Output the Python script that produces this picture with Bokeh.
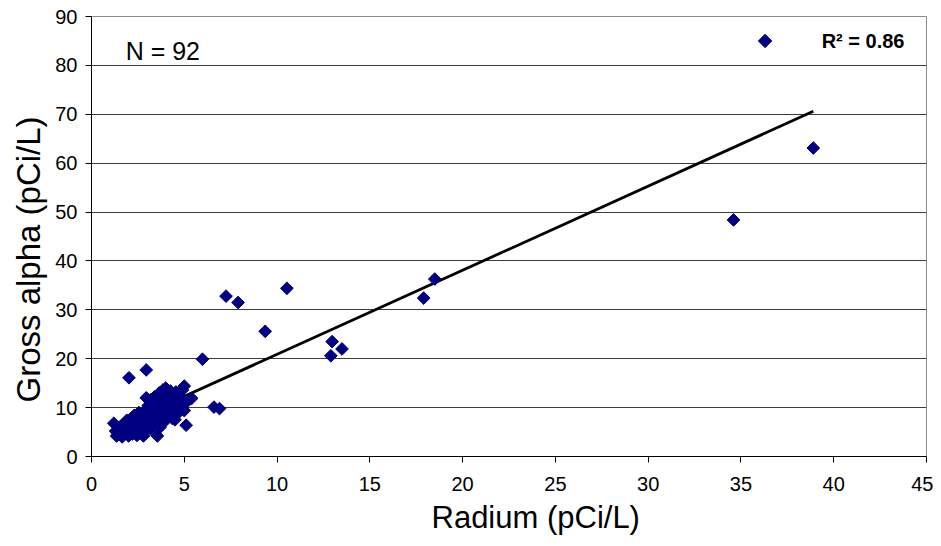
import math
from bokeh.plotting import figure
from bokeh.models import Label, Title, ColumnDataSource, FixedTicker
from bokeh.embed import file_html
from bokeh.resources import INLINE

# ---- data ----
radium = [
    1.2, 1.3, 1.35, 1.5, 1.5, 1.6, 1.65, 1.7, 1.8, 1.85,
    1.9, 2.0, 2.0, 2.1, 2.15, 2.2, 2.3, 2.3, 2.4, 2.45,
    2.5, 2.55, 2.6, 2.7, 2.7, 2.8, 2.8, 2.9, 2.95, 3.0,
    3.05, 3.1, 3.15, 3.2, 3.2, 3.3, 3.3, 3.4, 3.4, 3.5,
    3.5, 3.55, 3.6, 3.6, 3.65, 3.7, 3.75, 3.8, 3.8, 3.85,
    3.9, 3.95, 4.0, 4.0, 4.05, 4.1, 4.15, 4.2, 4.25, 4.3,
    4.35, 4.4, 4.45, 4.5, 4.55, 4.6, 4.7, 4.75, 4.85, 4.9,
    5.0, 5.0, 5.1, 5.1, 5.4, 2.95,
    2.02, 2.95, 5.98, 6.6, 6.9, 7.25, 7.9, 9.36, 10.53, 12.97,
    13.5, 12.9, 17.9, 18.5, 34.6, 38.9,
]
gross_alpha = [
    6.8, 5.2, 4.2, 6.0, 4.6, 5.4, 4.0, 6.6, 4.8, 5.9,
    7.4, 4.2, 6.4, 5.2, 7.8, 4.6, 6.9, 8.4, 5.6, 4.3,
    7.4, 9.0, 6.2, 5.0, 8.0, 4.2, 6.8, 9.4, 7.6, 5.8,
    10.4, 8.6, 6.6, 11.6, 5.6, 9.6, 7.8, 10.8, 12.2, 8.8,
    6.8, 4.2, 11.2, 9.8, 13.0, 6.0, 8.2, 10.6, 12.4, 13.6,
    9.2, 7.2, 11.6, 14.0, 10.0, 12.8, 8.6, 11.0, 13.4, 9.4,
    7.8, 12.0, 10.4, 7.5, 13.2, 11.2, 9.0, 12.4, 10.0, 13.6,
    14.4, 9.4, 6.4, 11.0, 11.9, 12.0,
    16.1, 17.7, 19.9, 10.1, 9.8, 32.8, 31.5, 25.6, 34.4, 23.5,
    22.0, 20.6, 32.4, 36.3, 48.4, 63.1,
]
trend_slope = 1.72
trend_intercept = 3.7
r_squared_text = "R\u00b2 = 0.86"
n_text = "N = 92"
x_ticks = [0, 5, 10, 15, 20, 25, 30, 35, 40, 45]
y_ticks = [0, 10, 20, 30, 40, 50, 60, 70, 80, 90]
x_title = "Radium (pCi/L)"
y_title = "Gross alpha (pCi/L)"
# legend key position (data units, top-right corner of the plot)
legend_key_x = [36.3]
legend_key_y = [85.0]

FONT = "Liberation Sans"
NAVY = "#000080"

p = figure(width=933, height=546, x_range=(0, 45), y_range=(0, 90),
           output_backend="svg", toolbar_location=None,
           min_border_left=91, min_border_right=7, min_border_top=16, min_border_bottom=90)
p.background_fill_color = "white"
p.border_fill_color = "white"
p.outline_line_color = "#8c8c8c"
p.outline_line_width = 1

# axes
for ax in (p.xaxis[0], p.yaxis[0]):
    ax.axis_line_color = "black"
    ax.axis_line_width = 1
    ax.major_tick_line_color = "black"
    ax.major_tick_out = 6
    ax.major_tick_in = 0
    ax.minor_tick_line_color = None
    ax.major_label_text_font = FONT
    ax.major_label_text_font_size = "20px"
    ax.major_label_text_color = "black"
p.xaxis[0].ticker = FixedTicker(ticks=x_ticks)
p.yaxis[0].ticker = FixedTicker(ticks=y_ticks)
p.xaxis[0].major_label_standoff = 14
p.yaxis[0].major_label_standoff = 8

p.xgrid.grid_line_color = None
p.ygrid.grid_line_color = "#3c3c3c"
p.ygrid.grid_line_width = 1
p.ygrid.ticker = FixedTicker(ticks=y_ticks)

# trend line over the data's x span
x0, x1 = min(radium), max(radium)
trend_src = ColumnDataSource(dict(x=[x0, x1],
                                  y=[trend_slope * x0 + trend_intercept, trend_slope * x1 + trend_intercept]))
p.line("x", "y", source=trend_src, line_color="black", line_width=2.8)

src = ColumnDataSource(dict(x=radium, y=gross_alpha))
p.scatter("x", "y", source=src, marker="square", size=9, angle=math.pi / 4,
          fill_color=NAVY, line_color=NAVY, line_width=1)

# legend: diamond key + bold R² text
p.scatter(legend_key_x, legend_key_y, marker="square", size=9.5, angle=math.pi / 4,
          fill_color=NAVY, line_color=NAVY, line_width=1)
p.add_layout(Label(x=39.35, y=85.0, text=r_squared_text, text_font=FONT, text_font_size="20px",
                   text_font_style="bold", text_color="black", text_baseline="middle"))

p.add_layout(Label(x=1.84, y=82.9, text=n_text, text_font=FONT, text_font_size="25px",
                   text_color="black", text_baseline="alphabetic"))

# axis titles
p.add_layout(Title(text=x_title, align="left", offset=340, standoff=9,
                   text_font=FONT, text_font_size="31px", text_font_style="normal",
                   text_color="black"), "below")
p.add_layout(Title(text=y_title, align="left", offset=54, standoff=12,
                   text_font=FONT, text_font_size="33px", text_font_style="normal",
                   text_color="black"), "left")

open("out.html", "w").write(file_html(p, INLINE))
